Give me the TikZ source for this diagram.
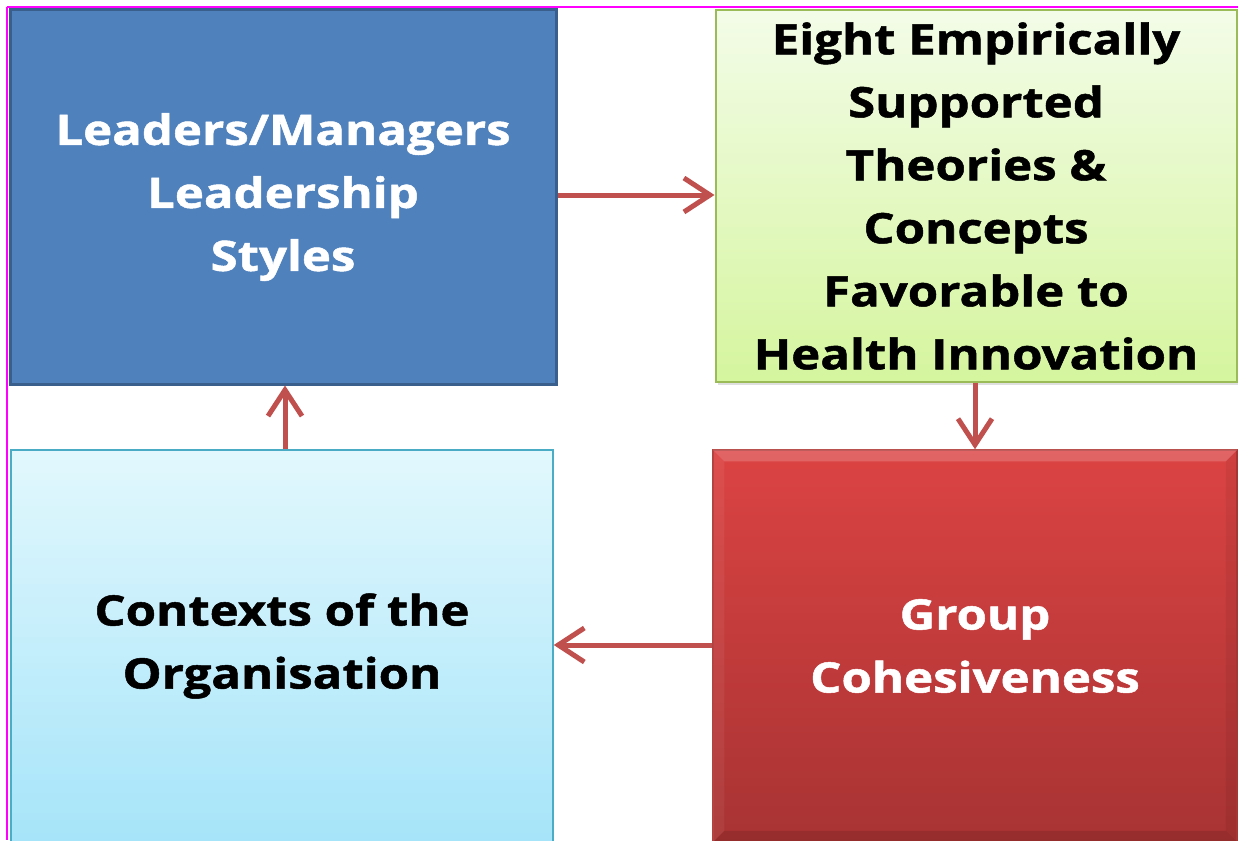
\documentclass[tikz,border=0pt]{standalone}
\usepackage{fontspec}
\setmainfont{Open Sans}[BoldFeatures={FakeStretch=1.17,FakeBold=1.2}]
\usetikzlibrary{arrows.meta,shadows}
\definecolor{bluefill}{HTML}{4F81BD}
\definecolor{blueedge}{HTML}{3A5F8C}
\definecolor{greentop}{HTML}{F3FCE8}
\definecolor{greenbot}{HTML}{D5F59E}
\definecolor{greenedge}{HTML}{9BBB59}
\definecolor{cyantop}{HTML}{E2F8FD}
\definecolor{cyanbot}{HTML}{A6E4F9}
\definecolor{cyanedge}{HTML}{4BACC6}
\definecolor{redtop}{HTML}{DC4343}
\definecolor{redbot}{HTML}{A83333}
\definecolor{rededge}{HTML}{B03A38}
\definecolor{arrowred}{HTML}{C0504D}
\definecolor{frame}{HTML}{FF00FF}
\tikzset{
  boxtext/.style={font=\bfseries\fontsize{42}{63}\selectfont, align=center},
  conn/.style={draw=arrowred, line width=5pt, -{Straight Barb[length=26pt,width=34pt,line width=5pt]}},
}
\begin{document}
\begin{tikzpicture}[x=1pt,y=-1pt]
\useasboundingbox (0,0) rectangle (1238,840);
\fill[white] (0,0) rectangle (1238,840);
% frame lines
\draw[frame, line width=2.5pt] (7,7) -- (1238,7);
\draw[frame, line width=2.5pt] (7,7) -- (7,840);
% boxes
\node[draw=blueedge, fill=bluefill, line width=3pt, minimum width=546pt, minimum height=374pt, inner sep=0pt] (lead) at (283,197) {};
\node[draw=greenedge, top color=greentop, bottom color=greenbot, line width=2pt, minimum width=521pt, minimum height=372pt, inner sep=0pt, drop shadow={shadow xshift=2pt, shadow yshift=-3pt, opacity=0.25}] (eight) at (976,196) {};
\node[draw=cyanedge, top color=cyantop, bottom color=cyanbot, line width=1.5pt, minimum width=542pt, minimum height=392pt, inner sep=0pt] (ctx) at (282,646) {};
\node[draw=rededge, top color=redtop, bottom color=redbot, line width=1.5pt, minimum width=524pt, minimum height=392pt, inner sep=0pt] (grp) at (975,646) {};
% bevel highlights on red box
\fill[white, opacity=0.18] (grp.north west) -- (grp.north east) -- ([xshift=-12pt,yshift=-12pt]grp.north east) -- ([xshift=12pt,yshift=-12pt]grp.north west) -- cycle;
\fill[black, opacity=0.10] (grp.south west) -- (grp.south east) -- ([xshift=-12pt,yshift=12pt]grp.south east) -- ([xshift=12pt,yshift=12pt]grp.south west) -- cycle;
\fill[black, opacity=0.06] (grp.north east) -- (grp.south east) -- ([xshift=-12pt,yshift=12pt]grp.south east) -- ([xshift=-12pt,yshift=-12pt]grp.north east) -- cycle;
\fill[white, opacity=0.06] (grp.north west) -- (grp.south west) -- ([xshift=12pt,yshift=12pt]grp.south west) -- ([xshift=12pt,yshift=-12pt]grp.north west) -- cycle;
% texts
\node[boxtext, text=white] (leadtxt) at (lead.center) {Leaders/Managers\\Leadership\\Styles};
\node[boxtext, text=black] (eighttxt) at (eight.center) {Eight Empirically\\Supported\\Theories \&\\Concepts\\Favorable to\\Health Innovation};
\node[boxtext, text=black] (ctxtxt) at (ctx.center) {Contexts of the\\Organisation};
\node[boxtext, text=white] (grptxt) at (grp.center) {Group\\Cohesiveness};
% connectors
\draw[conn] (lead.east |- 0,195) -- (eight.west |- 0,195);
\draw[conn] (eight.south -| 975,0) -- (grp.north -| 975,0);
\draw[conn] (grp.west |- 0,645) -- (ctx.east |- 0,645);
\draw[conn] (ctx.north -| 285,0) -- (lead.south -| 285,0);
\end{tikzpicture}
\end{document}
